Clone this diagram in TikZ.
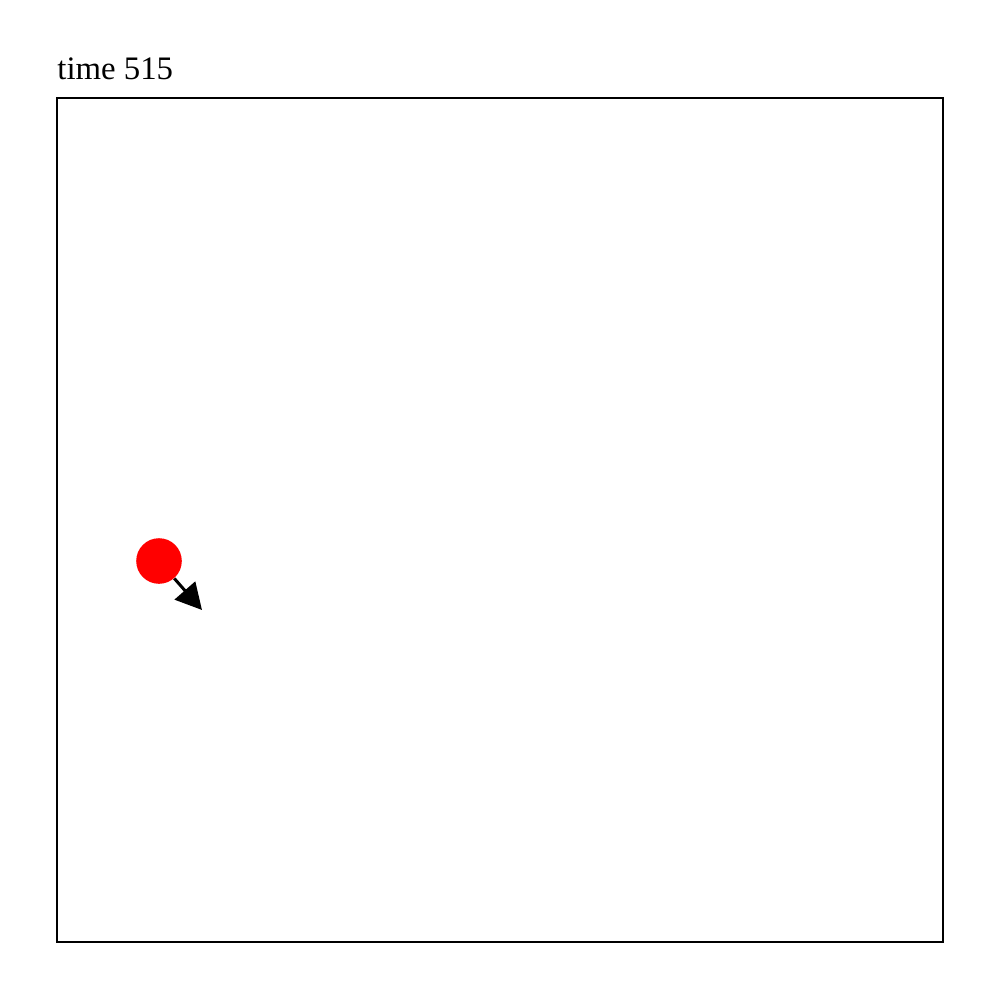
\documentclass[tikz,border=0pt]{standalone}
\usepackage{fontspec}
\setmainfont{Liberation Serif}
\usetikzlibrary{arrows.meta}
\begin{document}
\begin{tikzpicture}[x=0.5pt,y=-0.5pt,
  frame/.style={draw=black,line width=1pt},
  ballstyle/.style={circle,fill=red,minimum size=22.8pt,inner sep=0pt},
  velarrow/.style={line width=1.5pt,-{Triangle[length=13pt,width=13.5pt]}}]
\useasboundingbox (0,0) rectangle (1000,1000);
\fill[white] (0,0) rectangle (1000,1000);
\node[frame,anchor=north west,minimum width=443pt,minimum height=422pt,inner sep=0pt,outer sep=0pt] (box) at (57,98) {};
\node[anchor=base west,inner sep=0pt,font=\fontsize{16.4}{19}\selectfont] (title) at (57,80) {time 515};
\node[ballstyle] (ball) at (159,561) {};
\coordinate (tip) at (202,610);
\draw[velarrow] (ball) -- (tip);
\end{tikzpicture}
\end{document}
